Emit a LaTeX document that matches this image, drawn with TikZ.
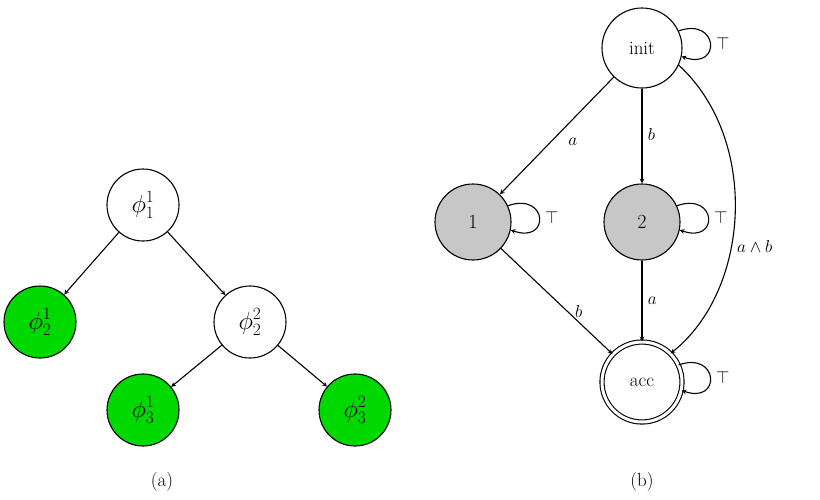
\documentclass[tikz,border=0pt]{standalone}
\usepackage{amsmath,amssymb}
\begin{document}
\begin{tikzpicture}[x=1pt,y=-1pt,>=stealth,
 st/.style={circle,draw,line width=1.1pt,minimum size=72pt,inner sep=0pt,font=\fontsize{23}{26}\selectfont},
 gr/.style={st,fill=green!85!black},
 gy/.style={st,fill=black!22,minimum size=76pt,font=\fontsize{20}{22}\selectfont},
 lab/.style={font=\fontsize{19}{21}\selectfont},
 ed/.style={->,line width=1.1pt}]
\useasboundingbox (0,0) rectangle (820,499);
\node[st] (p11) at (143,205) {$\phi_1^1$};
\node[gr] (p21) at (40,322) {$\phi_2^1$};
\node[st] (p22) at (250,322) {$\phi_2^2$};
\node[gr] (p31) at (143,410) {$\phi_3^1$};
\node[gr] (p32) at (355,410) {$\phi_3^2$};
\draw[ed] (p11) -- (p21);
\draw[ed] (p11) -- (p22);
\draw[ed] (p22) -- (p31);
\draw[ed] (p22) -- (p32);
\node[lab] (ca) at (162,482) {(a)};
\node[st,minimum size=80pt,font=\fontsize{19}{21}\selectfont] (init) at (642,48) {init};
\node[gy] (n1) at (473,222) {1};
\node[gy] (n2) at (642,222) {2};
\node[st,double,double distance=3pt,minimum size=80pt,font=\fontsize{19}{21}\selectfont] (acc) at (642,382) {acc};
\draw[ed] (init) -- node[lab,pos=0.5,xshift=16pt,yshift=-6pt] {$a$} (n1);
\draw[ed] (init) -- node[lab,right,pos=0.48,xshift=2pt] {$b$} (n2);
\draw[ed] (init.-25) .. controls (760,140) and (750,290) .. node[lab,right,pos=0.6,xshift=2pt] {$a\wedge b$} (acc.45);
\draw[ed] (n1) -- node[lab,pos=0.5,xshift=22pt,yshift=-10pt] {$b$} (acc);
\draw[ed] (n2) -- node[lab,right,xshift=2pt] {$a$} (acc);
\foreach \n in {init,n1,n2,acc}
 \draw[ed] (\n.25) .. controls +(40,-14) and +(40,14) .. node[lab,right,xshift=2pt] {$\top$} (\n.-12);
\node[lab] (cb) at (642,482) {(b)};
\end{tikzpicture}
\end{document}
